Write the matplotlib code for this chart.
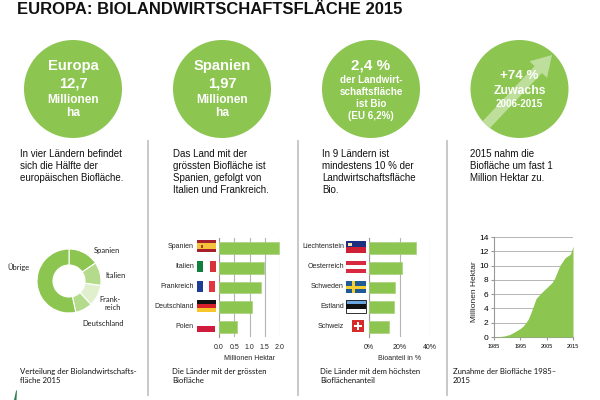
import matplotlib
matplotlib.use("Agg")
import matplotlib.pyplot as plt
from matplotlib.patches import Circle, FancyArrow, Rectangle, Polygon

plt.rcParams['font.family'] = ['Liberation Sans', 'DejaVu Sans']

GREEN = '#8cc550'
GRID = '#b5b5b5'
W, H = 600, 400

# data
donut_labels = ['Spanien', 'Italien', 'Frankreich', 'Deutschland', 'Übrige']
donut_values = [1.97, 1.49, 1.37, 1.09, 6.78]
donut_colors = ['#8cc550', '#b4da8c', '#e0f0cf', '#b4da8c', '#8cc550']

area_countries = ['Spanien', 'Italien', 'Frankreich', 'Deutschland', 'Polen']
area_values = [1.97, 1.49, 1.37, 1.09, 0.58]

share_countries = ['Liechtenstein', 'Oesterreich', 'Schweden', 'Estland', 'Schweiz']
share_values = [30.5, 21.5, 17.2, 16.5, 13.0]

years = [1985, 1987, 1989, 1991, 1993, 1995, 1996, 1997, 1998, 1999, 2000, 2001,
         2002, 2003, 2004, 2005, 2006, 2007, 2008, 2009, 2010, 2011, 2012, 2013, 2014, 2015]
growth = [0.0, 0.05, 0.15, 0.35, 0.75, 1.2, 1.5, 1.95, 2.5, 3.4, 4.4, 5.4,
          5.8, 6.2, 6.55, 6.9, 7.25, 7.6, 8.2, 9.1, 10.0, 10.55, 11.1, 11.35, 11.6, 12.7]

circle_x = [73, 222, 371, 519.5]
sep_x = [148, 298, 447]

fig = plt.figure(figsize=(6, 4), dpi=100)


def axes_px(x0, y0, x1, y1):
    # axes from pixel box, y counted from the top
    return fig.add_axes([x0 / W, 1 - y1 / H, (x1 - x0) / W, (y1 - y0) / H])


# overlay in pixel coordinates for text, circles, flags
bg = fig.add_axes([0, 0, 1, 1])
bg.set_xlim(0, W)
bg.set_ylim(H, 0)
bg.axis('off')

bg.text(17, 10, 'EUROPA: BIOLANDWIRTSCHAFTSFLÄCHE 2015', fontsize=12, weight='bold',
        va='center', color='#111111')

for x in sep_x:
    bg.plot([x, x], [141, 395], color='#c4c4c4', lw=1.3)

for x in circle_x:
    bg.add_patch(Circle((x, 89), 49, color=GREEN, lw=0))

# arrow in the last circle, clipped to it
arrow = FancyArrow(485, 126, 67, -71, width=10, head_width=24, head_length=20,
                   length_includes_head=True, color='#c3e2a4', lw=0, alpha=0.9)
bg.add_patch(arrow)
arrow.set_clip_path(Circle((519.5, 89), 49, transform=bg.transData))


def ctext(x, y, s, size, **kw):
    bg.text(x, y, s, fontsize=size, color='white', weight='bold', ha='center', va='center', **kw)


ctext(73, 66, 'Europa', 10.6)
ctext(73, 84, '12,7', 10.6)
ctext(73, 100, 'Millionen', 8.6)
ctext(73, 113, 'ha', 8.6)

ctext(222, 66, 'Spanien', 10.6)
ctext(222, 84, '1,97', 10.6)
ctext(222, 100, 'Millionen', 8.6)
ctext(222, 113, 'ha', 8.6)

ctext(371, 66, '2,4 %', 11)
ctext(371, 80, 'der Landwirt-', 7.1)
ctext(371, 92, 'schaftsfläche', 7.1)
ctext(371, 104, 'ist Bio', 7.1)
ctext(371, 116, '(EU 6,2%)', 7.1)

ctext(519.5, 76, '+74 %', 9.6)
ctext(519.5, 91, 'Zuwachs', 8.8)
ctext(519.5, 104, '2006-2015', 7.1)

# body texts
body = [(20, 'In vier Ländern befindet\nsich die Hälfte der\neuropäischen Biofläche.'),
        (173, 'Das Land mit der\ngrössten Biofläche ist\nSpanien, gefolgt von\nItalien und Frankreich.'),
        (322, 'In 9 Ländern ist\nmindestens 10 % der\nLandwirtschaftsfläche\nBio.'),
        (470, '2015 nahm die\nBiofläche um fast 1\nMillion Hektar zu.')]
for x, s in body:
    bg.text(x, 149, s, fontsize=7, va='top', color='#111111', linespacing=1.26)

# captions
captions = [(20, 'Verteilung der Biolandwirtschafts-\nfläche 2015'),
            (172, 'Die Länder mit der grössten\nBiofläche'),
            (320, 'Die Länder mit dem höchsten\nBioflächenanteil'),
            (453, 'Zunahme der Biofläche 1985–\n2015')]
for x, s in captions:
    bg.text(x, 376, s, fontsize=5.6, va='center', family=['Lato', 'DejaVu Sans'], color='#111111',
            linespacing=1.32)

# small leaf in the corner
bg.add_patch(Polygon([(14, 400), (16, 391), (17, 390), (16.5, 400)], color='#2f7d4f', lw=0))

# donut
ax = axes_px(37, 249, 101, 313)
ax.pie(donut_values, colors=donut_colors, startangle=90, counterclock=False, radius=1,
       wedgeprops=dict(width=0.5, edgecolor='white', linewidth=0.8))
ax.set_xlim(-1, 1)
ax.set_ylim(-1, 1)

for x, y, s in [(107, 251, 'Spanien'), (116, 275, 'Italien'), (110, 299, 'Frank-'),
                (113, 308, 'reich'), (103, 323, 'Deutschland'), (19, 267, 'Übrige')]:
    bg.text(x, y, s, fontsize=5.4, ha='center', va='center', family=['Lato', 'DejaVu Sans'],
            color='#222222')


def hbar(box, names, values, xmax, ticks, ticklabels, xlabel):
    ax = axes_px(*box)
    pos = range(len(values))
    ax.barh(pos, values, height=0.6, color=GREEN, edgecolor='#a9d27f', lw=0.5, zorder=3)
    ax.set_ylim(len(values) - 0.5, -0.5)
    ax.set_xlim(0, xmax)
    ax.set_xticks(ticks)
    ax.set_xticklabels(ticklabels, fontsize=5)
    ax.set_yticks([])
    ax.grid(axis='x', color=GRID, lw=0.8, zorder=0)
    for side in ['top', 'right', 'bottom']:
        ax.spines[side].set_visible(False)
    ax.spines['left'].set_color('#999999')
    ax.tick_params(axis='x', length=0, pad=5, colors='#222222')
    ax.set_xlabel(xlabel, fontsize=5, labelpad=3, color='#222222')
    ax.patch.set_alpha(0)
    # country names left of the flags
    for i, name in zip(pos, names):
        y = box[1] + (i + 0.5) * (box[3] - box[1]) / len(values)
        bg.text(box[0] - 25, y - 1, name, fontsize=5, ha='right', va='center', color='#222222')
    return ax


hbar((219, 238, 280, 337), area_countries, area_values, 2.0,
     [0, 0.5, 1, 1.5, 2], ['0.0', '0.5', '1.0', '1.5', '2.0'], 'Millionen Hektar')
hbar((369, 238, 430, 337), share_countries, share_values, 40,
     [0, 20, 40], ['0%', '20%', '40%'], 'Bioanteil in %')


def hflag(x, y, w, h, colors, ratios=None):
    # horizontal stripes
    ratios = ratios or [1] * len(colors)
    top = y
    for c, r in zip(colors, ratios):
        sh = h * r / sum(ratios)
        bg.add_patch(Rectangle((x, top), w, sh, color=c, lw=0))
        top += sh


def vflag(x, y, w, h, colors):
    # vertical stripes
    for i, c in enumerate(colors):
        bg.add_patch(Rectangle((x + i * w / len(colors), y), w / len(colors), h, color=c, lw=0))


# flags, first chart
hflag(197, 240, 19, 12, ['#a5202c', '#f5c23c', '#a5202c'], [1, 2, 1])
bg.add_patch(Rectangle((201, 245), 2, 3, color='#a5402c', lw=0))
vflag(197, 261, 19, 11, ['#11803f', '#ffffff', '#d8333a'])
vflag(197, 281, 18, 11, ['#1c3c96', '#ffffff', '#e2353f'])
hflag(197, 300, 19, 12, ['#111111', '#d8202a', '#f7c62c'])
hflag(197, 320, 18, 12, ['#ffffff', '#d01c3c'])

# flags, second chart
hflag(346, 241, 20, 12, ['#1f2f7f', '#cf1f35'])
bg.add_patch(Rectangle((348, 243), 4, 2.5, color='#f0e8b0', lw=0))
hflag(346, 261, 20, 12, ['#d9293e', '#ffffff', '#d9293e'])
hflag(346, 281, 20, 12, ['#1d5a96'])
bg.add_patch(Rectangle((346, 285.5), 20, 3, color='#f5cf30', lw=0))
bg.add_patch(Rectangle((352, 281), 3, 12, color='#f5cf30', lw=0))
hflag(346, 300, 20, 13, ['#6aa5e0', '#111111', '#ffffff'])
bg.add_patch(Rectangle((346, 300), 20, 13, fill=False, ec='#111111', lw=0.6))
bg.add_patch(Rectangle((352, 320), 12, 12, color='#d62b2b', lw=0))
bg.add_patch(Rectangle((357, 322), 2.4, 8, color='white', lw=0))
bg.add_patch(Rectangle((354, 324.8), 8, 2.4, color='white', lw=0))

# area chart
ax = axes_px(494, 237, 573, 337)
ax.fill_between(years, growth, color=GREEN, lw=0, zorder=3)
ax.set_xlim(1985, 2015)
ax.set_ylim(0, 14)
ax.set_yticks(range(0, 15, 2))
ax.set_xticks([1985, 1995, 2005, 2015])
ax.set_xticklabels(['1985', '1995', '2005', '2015'], fontsize=4)
ax.tick_params(axis='y', labelsize=6, length=2, pad=2, color='#999999')
ax.tick_params(axis='x', length=2, pad=3, color='#999999')
ax.grid(axis='y', color=GRID, lw=0.7, zorder=0)
for side in ['top', 'right']:
    ax.spines[side].set_visible(False)
ax.spines['left'].set_color('#999999')
ax.spines['bottom'].set_color('#999999')
ax.set_ylabel('Millionen Hektar', fontsize=6, labelpad=1, color='#222222', y=0.45)
ax.patch.set_alpha(0)

fig.savefig('out.png', dpi=100)
